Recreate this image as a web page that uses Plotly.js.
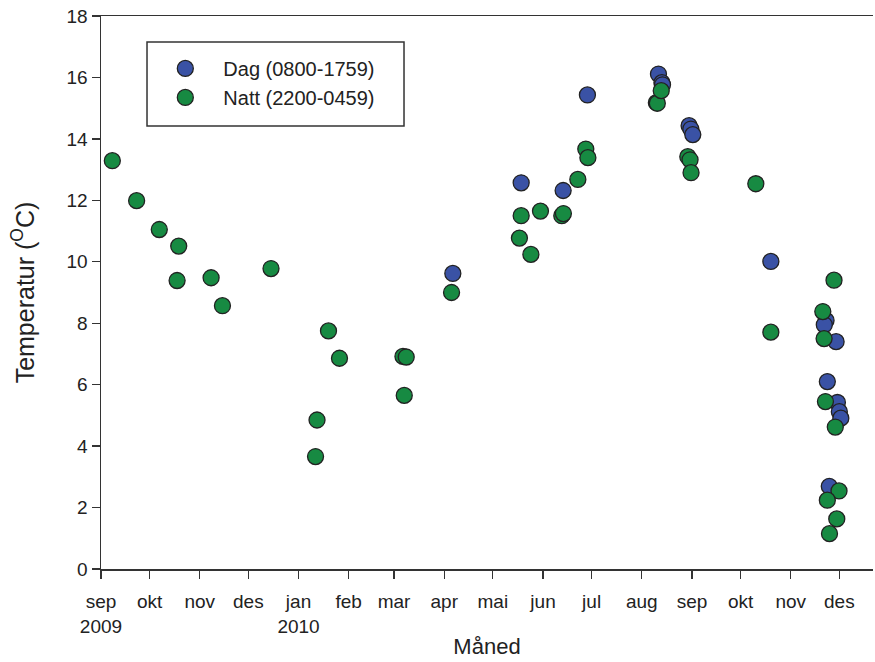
<!DOCTYPE html>
<html>
<head>
<meta charset="utf-8">
<script src="https://cdn.plot.ly/plotly-3.0.1.min.js"></script>
<style>
  html, body { margin: 0; padding: 0; background: #fff; }
  #chart { width: 875px; height: 662px; }
</style>
</head>
<body>
<div id="chart"></div>
<script>
// Day-time measurements (08:00-17:59)
const dagDates = [
  "2010-04-06 07:00", "2010-05-18 12:00", "2010-06-13 10:00", "2010-06-28 10:00",
  "2010-08-11 07:00", "2010-08-13 10:00", "2010-08-13 19:00",
  "2010-08-30 05:00", "2010-08-31 07:00", "2010-09-01 12:00",
  "2010-10-19 17:00",
  "2010-11-22 19:00", "2010-11-21 17:00", "2010-11-29 00:00", "2010-11-23 14:00",
  "2010-11-29 19:00", "2010-12-01 00:00", "2010-12-01 22:00", "2010-11-24 19:00"
];
const dagTemps = [
  9.62, 12.57, 12.32, 15.43,
  16.11, 15.83, 15.76,
  14.43, 14.32, 14.14,
  10.01,
  8.09, 7.95, 7.40, 6.10,
  5.42, 5.12, 4.91, 2.69
];

// Night-time measurements (22:00-04:59)
const nattDates = [
  "2009-09-08", "2009-09-23", "2009-10-07", "2009-10-19", "2009-10-18",
  "2009-11-08", "2009-11-15", "2009-12-15",
  "2010-01-11 12:00", "2010-01-12 10:00", "2010-01-19 12:00", "2010-01-26 07:00",
  "2010-03-06 12:00", "2010-03-08 12:00", "2010-03-07 07:00",
  "2010-04-05 12:00",
  "2010-05-17 10:00", "2010-05-18 12:00", "2010-05-24 12:00", "2010-05-30 10:00",
  "2010-06-12 14:00", "2010-06-13 14:00", "2010-06-22 12:00", "2010-06-27 10:00", "2010-06-28 17:00",
  "2010-08-10 00:00", "2010-08-10 14:00", "2010-08-13 00:00",
  "2010-08-29 10:00", "2010-08-30 19:00", "2010-08-31 10:00",
  "2010-10-10 10:00", "2010-10-19 17:00",
  "2010-11-27 17:00", "2010-11-20 19:00", "2010-11-21 14:00", "2010-11-22 10:00",
  "2010-11-28 12:00", "2010-11-30 19:00", "2010-11-23 14:00", "2010-11-29 10:00", "2010-11-24 22:00"
];
const nattTemps = [
  13.29, 11.99, 11.05, 10.51, 9.39,
  9.48, 8.57, 9.78,
  3.66, 4.85, 7.75, 6.86,
  6.92, 6.90, 5.65,
  9.00,
  10.77, 11.50, 10.24, 11.65,
  11.50, 11.57, 12.68, 13.67, 13.39,
  15.18, 15.16, 15.57,
  13.42, 13.32, 12.90,
  12.54, 7.71,
  9.40, 8.38, 7.50, 5.45,
  4.62, 2.54, 2.24, 1.63, 1.15
];

// Month ticks
const monthTicks = [
  "2009-09-01", "2009-10-01", "2009-11-01", "2009-12-01", "2010-01-01", "2010-02-01",
  "2010-03-01", "2010-04-01", "2010-05-01", "2010-06-01", "2010-07-01", "2010-08-01",
  "2010-09-01", "2010-10-01", "2010-11-01", "2010-12-01"
];
const monthLabels = [
  "sep<br>2009", "okt", "nov", "des", "jan<br>2010", "feb",
  "mar", "apr", "mai", "jun", "jul", "aug",
  "sep", "okt", "nov", "des"
];

const FONT = "Liberation Sans, Arial, sans-serif";
const markerLine = { color: "#222222", width: 1.3 };

const traces = [
  {
    x: dagDates, y: dagTemps, name: "Dag (0800-1759)",
    type: "scatter", mode: "markers",
    marker: { size: 16, color: "#3a52a5", line: markerLine }
  },
  {
    x: nattDates, y: nattTemps, name: "Natt (2200-0459)",
    type: "scatter", mode: "markers",
    marker: { size: 16, color: "#178a42", line: markerLine }
  }
];

const layout = {
  width: 875, height: 662,
  margin: { l: 101, r: 2, t: 16, b: 92.5 },
  paper_bgcolor: "#fff", plot_bgcolor: "#fff",
  font: { family: FONT, color: "#222", size: 19 },
  showlegend: true,
  legend: {
    x: 0.06, y: 0.9404, xanchor: "left", yanchor: "top",
    bgcolor: "rgba(0,0,0,0)", borderwidth: 0,
    font: { family: FONT, size: 20, color: "#222" },
    itemwidth: 66
  },
  // frame around the legend
  shapes: [{
    type: "rect", xref: "paper", yref: "paper",
    x0: 0.0596, x1: 0.3925, y0: 0.8013, y1: 0.953,
    line: { color: "#333", width: 1.5 }, fillcolor: "rgba(0,0,0,0)", layer: "below"
  }],
  xaxis: {
    type: "date",
    range: ["2009-09-01", "2010-12-21 19:00"],
    tickmode: "array", tickvals: monthTicks, ticktext: monthLabels,
    ticks: "outside", ticklen: 8, tickwidth: 1.3, tickcolor: "#333",
    ticklabelstandoff: 7,
    showline: true, linecolor: "#333", linewidth: 1.5, mirror: true,
    showgrid: false, zeroline: false,
    tickfont: { family: FONT, size: 19, color: "#222" },
    title: { text: "Måned", font: { family: FONT, size: 22, color: "#222" }, standoff: 2 }
  },
  yaxis: {
    range: [0, 18],
    tickvals: [0, 2, 4, 6, 8, 10, 12, 14, 16, 18],
    ticks: "outside", ticklen: 8, tickwidth: 1.3, tickcolor: "#333",
    showline: true, linecolor: "#333", linewidth: 1.5,
    showgrid: false, zeroline: false,
    tickfont: { family: FONT, size: 19, color: "#222" },
    title: { text: "Temperatur (<sup>O</sup>C)", font: { family: FONT, size: 25, color: "#222" }, standoff: 25 }
  }
};

Plotly.newPlot("chart", traces, layout, { displayModeBar: false, staticPlot: true });
</script>
</body>
</html>
